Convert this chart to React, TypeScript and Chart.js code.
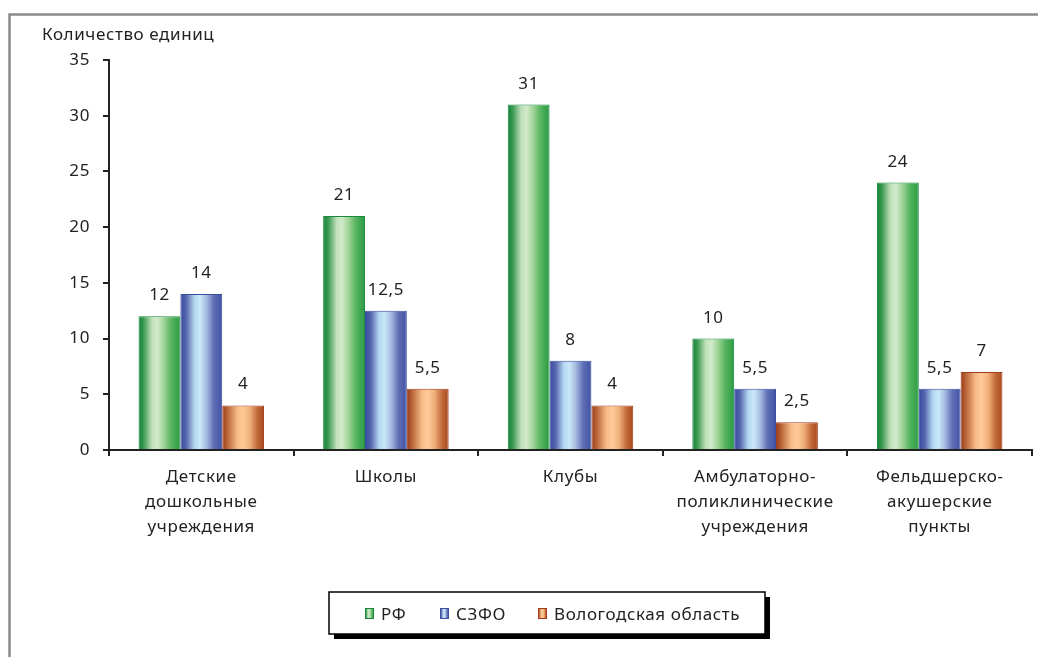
import { useEffect, useRef } from 'react';
import { Chart, registerables } from 'chart.js';

Chart.register(...registerables);

const categories: string[][] = [
  ['Детские', 'дошкольные', 'учреждения'],
  ['Школы'],
  ['Клубы'],
  ['Амбулаторно-', 'поликлинические', 'учреждения'],
  ['Фельдшерско-', 'акушерские', 'пункты'],
];
const seriesNames = ['РФ', 'СЗФО', 'Вологодская область'];
const rfValues = [12, 21, 31, 10, 24];
const szfoValues = [14, 12.5, 8, 5.5, 5.5];
const vologdaValues = [4, 5.5, 4, 2.5, 7];
const yMin = 0;
const yMax = 35;
const yStep = 5;
const yAxisTitle = 'Количество единиц';

const FONT = '"Noto Sans", "Open Sans", sans-serif';
const FS = 17;
const SPACING = '0.6px';
const TEXT = '#222222';

const gradStops: [number, string][][] = [
  [
    [0, '#157f38'], [0.12, '#3a9a52'], [0.32, '#bfe0b8'], [0.45, '#d2eacb'],
    [0.6, '#a3d59a'], [0.78, '#58b560'], [1, '#2a9a42'],
  ],
  [
    [0, '#37489a'], [0.14, '#5566b0'], [0.34, '#b5d7f0'], [0.47, '#c9e8f8'],
    [0.62, '#a7bde2'], [0.8, '#5f6fb6'], [1, '#4252a4'],
  ],
  [
    [0, '#9a3a1a'], [0.14, '#be6a3c'], [0.36, '#f6bb88'], [0.5, '#fdca98'],
    [0.66, '#f0b07a'], [0.84, '#c26a38'], [1, '#a8481f'],
  ],
];
const borderColors = ['#178a3c', '#3a4fa2', '#a33c1c'];
const baseColors = ['#3aa04e', '#4a5cae', '#c0683a'];

function makeGrad(ctx: CanvasRenderingContext2D, x0: number, x1: number, i: number) {
  const g = ctx.createLinearGradient(x0, 0, x1, 0);
  gradStops[i].forEach(([o, c]) => g.addColorStop(o, c));
  return g;
}

const fmt = (v: number) => String(v).replace('.', ',');

const spacingPlugin = {
  id: 'spacing',
  beforeUpdate(chart: any) {
    (chart.ctx as any).letterSpacing = SPACING;
  },
  beforeLayout(chart: any) {
    (chart.ctx as any).letterSpacing = SPACING;
  },
  beforeDraw(chart: any) {
    (chart.ctx as any).letterSpacing = SPACING;
  },
};

const gradientPlugin = {
  id: 'barGradients',
  beforeDatasetsDraw(chart: any) {
    const ctx = chart.ctx;
    chart.data.datasets.forEach((_: any, di: number) => {
      const meta = chart.getDatasetMeta(di);
      meta.data.forEach((el: any) => {
        const w = el.width;
        const g = makeGrad(ctx, el.x - w / 2, el.x + w / 2, di);
        el.options = Object.assign({}, el.options, { backgroundColor: g });
      });
    });
  },
};

const labelsPlugin = {
  id: 'valueLabels',
  afterDatasetsDraw(chart: any) {
    const ctx = chart.ctx;
    ctx.save();
    ctx.letterSpacing = SPACING;
    ctx.font = `${FS}px ${FONT}`;
    ctx.fillStyle = TEXT;
    ctx.textAlign = 'center';
    ctx.textBaseline = 'alphabetic';
    chart.data.datasets.forEach((ds: any, di: number) => {
      const meta = chart.getDatasetMeta(di);
      meta.data.forEach((el: any, i: number) => {
        ctx.fillText(fmt(ds.data[i]), el.x, el.y - 16);
      });
    });
    ctx.restore();
  },
};

const decorPlugin = {
  id: 'decor',
  afterDraw(chart: any) {
    const ctx = chart.ctx;
    ctx.save();
    ctx.letterSpacing = SPACING;
    // frame
    ctx.strokeStyle = '#8a8a8a';
    ctx.lineWidth = 2.5;
    ctx.beginPath();
    ctx.moveTo(9.5, 700);
    ctx.lineTo(9.5, 14.5);
    ctx.lineTo(1100, 14.5);
    ctx.stroke();
    // axis title
    ctx.font = `${FS}px ${FONT}`;
    ctx.fillStyle = TEXT;
    ctx.textAlign = 'left';
    ctx.textBaseline = 'alphabetic';
    ctx.fillText(yAxisTitle, 42, 40);

    // legend
    const bx = 329, by = 592, bw = 436, bh = 42;
    ctx.fillStyle = '#000';
    ctx.fillRect(bx + 5, by + 5, bw, bh);
    ctx.fillStyle = '#fff';
    ctx.fillRect(bx, by, bw, bh);
    ctx.strokeStyle = '#000';
    ctx.lineWidth = 1.5;
    ctx.strokeRect(bx, by, bw, bh);
    const items = [365, 440, 538];
    ctx.font = `${FS}px ${FONT}`;
    chart.data.datasets.forEach((ds: any, di: number) => {
      const sx = items[di];
      const sy = 608;
      ctx.fillStyle = makeGrad(ctx, sx, sx + 9, di);
      ctx.fillRect(sx, sy, 9, 11);
      ctx.strokeStyle = borderColors[di];
      ctx.lineWidth = 1;
      ctx.strokeRect(sx + 0.5, sy + 0.5, 8, 10);
      ctx.fillStyle = TEXT;
      ctx.fillText(ds.label, sx + 16, 620);
    });
    ctx.restore();
  },
};

export default function App() {
  const ref = useRef<HTMLCanvasElement | null>(null);
  useEffect(() => {
    if (!ref.current) return;
    const seriesValues = [rfValues, szfoValues, vologdaValues];
    const chart = new Chart(ref.current, {
      type: 'bar',
      data: {
        labels: categories,
        datasets: seriesValues.map((vals, i) => ({
          label: seriesNames[i],
          data: vals,
          backgroundColor: baseColors[i],
          borderColor: borderColors[i],
          borderWidth: 1,
          borderSkipped: 'bottom',
          categoryPercentage: 0.68,
          barPercentage: 1,
        })),
      },
      options: {
        animation: false,
        responsive: false,
        maintainAspectRatio: false,
        devicePixelRatio: 1,
        layout: { padding: { top: 60, left: 0, right: 6, bottom: 0 } },
        plugins: {
          legend: { display: false },
          tooltip: { enabled: false },
          title: { display: false },
        },
        scales: {
          x: {
            offset: true,
            grid: {
              offset: true,
              drawOnChartArea: false,
              drawTicks: true,
              tickLength: 6,
              color: '#222',
              lineWidth: 2,
            },
            border: { display: true, color: '#222', width: 2 },
            ticks: {
              color: TEXT,
              font: { family: FONT, size: FS, lineHeight: 1.47 },
              padding: 9,
              maxRotation: 0,
              autoSkip: false,
            },
            afterFit(scale: any) {
              scale.height = 207;
            },
          },
          y: {
            min: yMin,
            max: yMax,
            ticks: {
              stepSize: yStep,
              color: TEXT,
              font: { family: FONT, size: FS },
              padding: 13,
            },
            grid: {
              drawOnChartArea: false,
              drawTicks: true,
              tickLength: 6,
              color: '#222',
              lineWidth: 2,
            },
            border: { display: true, color: '#222', width: 2 },
            afterFit(scale: any) {
              scale.width = 109;
            },
          },
        },
      },
      plugins: [spacingPlugin, gradientPlugin, labelsPlugin, decorPlugin],
    });
    return () => chart.destroy();
  }, []);
  return (
    <div style={{ position: 'absolute', left: 0, top: 0, width: 1038, height: 657, background: '#fff' }}>
      <canvas ref={ref} width={1038} height={657} style={{ display: 'block', width: 1038, height: 657 }} />
    </div>
  );
}
